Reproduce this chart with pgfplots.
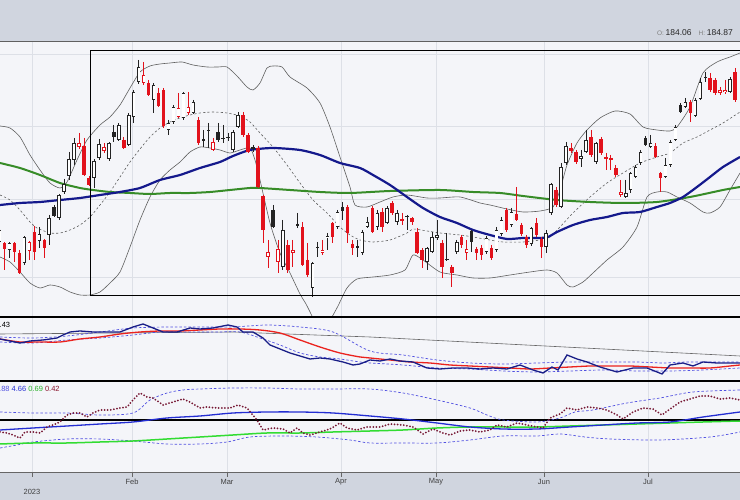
\documentclass[border=0pt]{standalone}
\usepackage{fontspec}
\setmainfont{Liberation Sans}
\usepackage{pgfplots}
\usepackage{pgfplotstable}
\pgfplotsset{compat=1.18}

\definecolor{bandbg}{RGB}{208,213,223}
\definecolor{chartbg}{RGB}{244,245,249}
\definecolor{gridc}{RGB}{221,224,231}
\definecolor{candred}{RGB}{226,18,28}
\definecolor{candblk}{RGB}{35,35,35}
\definecolor{bbgray}{RGB}{95,95,95}
\definecolor{maA}{RGB}{20,25,140}
\definecolor{maB}{RGB}{55,140,40}
\definecolor{navyi}{RGB}{25,30,135}
\definecolor{redi}{RGB}{235,35,30}
\definecolor{dashblue}{RGB}{80,80,225}
\definecolor{bluei}{RGB}{35,45,210}
\definecolor{greeni}{RGB}{50,220,50}
\definecolor{maroonD}{RGB}{118,24,52}

% candles: k index, o/c body ends, h/l wick ends (screen depth units, larger = lower)
% t: 0 hollow black, 1 hollow red, 2 filled red, 3 filled black
\pgfplotstableread{
k o h l c t
-1 242 228 245 230 0
0 243 242 270 249 2
1 250 242 258 243 0
2 243 242 262 252 2
3 253 250 274 273 2
4 263 236 265 237 0
5 251 241 260 242 1
6 232 226 260 252 2
7 241 227 248 234 0
8 240 239 258 248 2
9 235 215 245 218 0
10 207 205 217 216 3
11 218 194 220 195 0
12 192 179 194 184 0
13 176 152 180 159 0
14 160 138 165 143 0
15 147 133 149 143 1
16 146 138 176 175 2
17 178 176 186 185 2
18 178 159 188 161 0
19 158 139 160 144 0
20 151 143 153 147 1
21 159 142 161 143 0
22 132 125 142 137 3
23 140 123 141 125 0
24 140 137 149 148 2
25 145 113 146 115 0
26 117 90 123 92 0
27 82 60 84 67 0
28 83 62 85 75 1
29 83 80 96 95 2
30 100 83 113 85 0
31 93 88 107 106 2
32 90 88 128 126 2
33 130 120 135 123 0
34 122 105 124 107 0
35 117 93 118 108 1
36 118 92 120 93 0
37 113 92 115 107 1
38 113 100 114 102 0
39 120 117 145 143 2
40 139 130 147 141 3
41 131 123 148 130 0
42 150 138 151 142 1
43 132 123 142 140 3
44 139 125 143 138 0
45 137 133 141 138 3
46 150 130 152 132 0
47 127 112 128 115 0
48 115 112 137 135 2
49 135 133 153 152 2
50 147 145 152 149 3
51 148 146 188 187 2
52 196 195 243 230 2
53 257 240 268 252 1
54 210 205 228 227 3
55 262 240 273 249 1
56 267 220 270 230 0
57 245 240 273 270 2
58 253 240 267 250 1
59 224 213 228 226 3
60 227 222 266 265 2
61 260 243 277 275 2
62 288 262 297 263 0
63 248 242 257 247 0
64 253 240 255 250 1
65 238 233 250 236 0
66 223 222 243 237 2
67 227 210 229 212 0
68 207 202 220 211 3
69 207 205 243 233 2
70 244 240 255 248 2
71 246 240 257 248 3
72 253 230 255 232 0
73 227 217 228 222 0
74 208 206 233 232 2
75 227 210 230 213 0
76 212 208 232 227 2
77 223 206 224 208 0
78 203 201 215 213 2
79 222 210 225 213 0
80 219 213 225 221 2
81 216 215 230 217 3
82 218 217 225 222 2
83 232 228 254 253 2
84 250 248 268 260 2
85 262 247 270 248 0
86 252 232 253 237 0
87 238 220 240 235 0
88 243 240 278 267 2
89 259 233 261 260 3
90 267 265 287 273 2
91 252 240 254 242 0
92 237 235 248 245 2
93 253 240 260 249 1
94 231 230 252 242 3
95 249 247 260 253 2
96 248 245 260 255 2
97 252 236 254 238 0
98 248 245 260 258 2
99 250 227 252 230 0
100 234 217 236 220 0
101 210 208 232 230 2
102 225 208 227 212 0
103 214 187 221 220 2
104 225 223 236 234 2
105 237 235 248 245 2
106 244 227 246 228 0
107 223 218 237 235 2
108 239 237 258 247 2
109 247 230 253 233 0
110 213 183 215 184 0
111 190 187 207 205 2
112 207 163 208 167 0
113 163 142 165 146 0
114 148 143 153 151 2
115 152 150 164 162 2
116 159 150 167 156 0
117 152 130 153 140 0
118 137 130 157 155 2
119 162 142 164 143 0
120 139 137 155 153 2
121 157 153 170 159 2
122 158 155 170 160 2
123 168 165 177 175 2
124 195 180 197 192 1
125 197 180 198 193 0
126 190 172 193 173 0
127 177 165 178 167 0
128 163 150 165 152 0
129 138 136 146 145 3
130 147 135 148 143 0
131 146 143 158 157 2
132 173 172 192 178 2
133 177 158 178 165 0
134 165 140 167 142 0
135 140 125 141 127 0
136 105 103 113 112 3
137 107 98 108 102 0
138 102 100 122 113 2
139 116 98 117 100 0
140 99 78 100 82 0
141 78 72 82 77 0
142 78 73 92 90 2
143 80 78 95 93 2
144 93 87 95 90 1
145 92 80 94 90 1
146 92 77 93 79 0
147 72 68 102 100 2
}\candles

\pgfplotsset{
  neg/.style={y filter/.expression={-y}},
  candle/.style={draw=none, no markers, forget plot},
}

\begin{document}
\begin{tikzpicture}[x=1pt,y=1pt]
\fill[bandbg] (0,0) rectangle (740,500);

\begin{axis}[scale only axis, width=740pt, height=431pt, at={(0,28)}, anchor=south west,
    xmin=0, xmax=740, ymin=-472, ymax=-41,
    axis line style={draw=none}, tick style={draw=none},
    xtick={32,132,227,341,436,544,648}, xticklabels={},
    ytick={-277,-199,-126,-54}, yticklabels={},
    xmajorgrids, ymajorgrids,
    grid style={gridc, line width=0.6pt},
    axis background/.style={fill=chartbg}]

% ============ main price panel ============
% Bollinger bands
\addplot[neg, bbgray, line width=0.6pt, smooth, tension=0.4] coordinates {
(0,126) (10,128) (20,137) (30,155) (40,170) (50,183) (60,188) (67,182) (77,160) (87,140) (100,125) (110,117) (120,105) (130,88) (140,72) (150,66) (160,64) (170,63) (182,62) (193,65) (207,67) (218,67) (227,67) (237,76) (247,87) (253,90) (260,83) (267,68) (273,66) (282,67) (290,77) (307,88) (320,103) (330,127) (340,157) (350,187) (355,205) (367,207) (380,202) (393,197) (407,195) (427,198) (440,198) (460,197) (480,203) (490,205) (507,209) (523,212) (540,211) (553,207) (560,190) (567,165) (577,143) (587,130) (600,118) (615,111) (630,114) (643,127) (657,130) (670,131) (677,127) (690,107) (703,73) (717,62) (730,57) (740,53)};
\addplot[neg, bbgray, line width=0.6pt, smooth, tension=0.4] coordinates {
(0,257) (10,262) (20,272) (30,283) (40,288) (50,285) (60,287) (70,292) (80,295) (90,295) (100,292) (110,283) (120,272) (130,247) (140,220) (150,197) (160,180) (170,170) (180,162) (190,152) (200,147) (210,148) (220,150) (230,153) (240,150) (250,148) (255,160) (260,180) (270,223) (280,253) (290,273) (300,294) (306,304) (312.5,317)};
\addplot[neg, bbgray, line width=0.6pt, smooth, tension=0.4] coordinates {
(332,317) (338,306) (347,288) (357,279) (373,277) (390,275) (405,270) (413,255) (423,260) (440,272) (457,275) (473,278) (490,278) (510,275) (530,272) (547,270) (557,273) (567,285) (573,287) (583,282) (593,273) (607,260) (623,247) (637,227) (647,197) (657,192) (667,192) (677,197) (690,203) (703,212) (710,213) (720,207) (730,190) (740,173)};
\addplot[neg, bbgray, line width=0.6pt, dash pattern=on 2.2pt off 2.2pt, smooth, tension=0.4] coordinates {
(0,195) (10,200) (20,210) (30,222) (37,228) (50,233) (60,233) (70,230) (80,225) (90,217) (100,205) (110,192) (120,177) (130,162) (140,149) (150,137) (160,128) (170,122) (180,118) (190,115) (200,113) (213,112) (227,113) (240,116) (250,122) (260,133) (273,147) (287,165) (300,183) (313,200) (327,213) (340,227) (350,235) (360,240) (373,242) (390,240) (407,233) (413,229) (427,231) (440,233) (460,235) (473,237) (490,240) (503,242) (523,242) (540,240) (550,237) (560,227) (573,213) (590,197) (607,183) (623,173) (640,163) (657,157) (670,153) (683,143) (697,137) (710,130) (723,123) (740,112)};

% moving averages
\addplot[neg, maB, line width=2pt, smooth, tension=0.4] coordinates {
(0,163) (20,168) (40,175) (60,183) (80,188) (93,190) (110,192) (130,193) (150,194) (170,193) (190,193) (210,192) (230,190) (250,188) (260,188) (290,190) (320,192) (350,193) (390,191) (440,190) (473,192) (500,193) (523,196) (557,200) (590,202) (623,203) (657,202) (690,197) (723,190) (740,187)};
\addplot[neg, maA, line width=2.2pt, smooth, tension=0.4] coordinates {
(0,205) (20,203) (40,202) (60,200) (80,198) (100,195) (120,192) (140,188) (160,180) (180,175) (200,168) (220,162) (233,156) (250,150) (273,148) (300,150) (320,155) (340,163) (360,168) (373,175) (390,185) (407,197) (423,208) (440,217) (457,223) (473,230) (490,235) (507,239) (523,238) (540,238) (548,237) (557,232) (573,225) (590,220) (607,217) (623,213) (640,212) (657,207) (670,203) (683,197) (697,187) (710,177) (723,167) (740,157)};

% candle wicks
\addplot[candle,
  restrict expr to domain={mod(\thisrow{t},3)}{0:0},
  error bars/.cd, y dir=minus, y explicit, error mark=none,
  error bar style={draw=candblk, line width=0.7pt}]
  table[x expr=4.5+4.97*\thisrow{k}, y expr=-\thisrow{h}, y error expr=\thisrow{l}-\thisrow{h}] {\candles};
\addplot[candle,
  restrict expr to domain={\thisrow{t}}{1:2},
  error bars/.cd, y dir=minus, y explicit, error mark=none,
  error bar style={draw=candred, line width=0.7pt}]
  table[x expr=4.5+4.97*\thisrow{k}, y expr=-\thisrow{h}, y error expr=\thisrow{l}-\thisrow{h}] {\candles};
% candle bodies
\addplot[candle,
  restrict expr to domain={mod(\thisrow{t},3)}{0:0},
  error bars/.cd, y dir=minus, y explicit, error mark=none,
  error bar style={draw=candblk, line width=3.5pt}]
  table[x expr=4.5+4.97*\thisrow{k}, y expr={-min(\thisrow{o},\thisrow{c})}, y error expr={max(abs(\thisrow{o}-\thisrow{c}),1)}] {\candles};
\addplot[candle,
  restrict expr to domain={\thisrow{t}}{1:2},
  error bars/.cd, y dir=minus, y explicit, error mark=none,
  error bar style={draw=candred, line width=3.5pt}]
  table[x expr=4.5+4.97*\thisrow{k}, y expr={-min(\thisrow{o},\thisrow{c})}, y error expr={max(abs(\thisrow{o}-\thisrow{c}),1)}] {\candles};
\addplot[candle,
  restrict expr to domain={\thisrow{t}}{0:1},
  error bars/.cd, y dir=minus, y explicit, error mark=none,
  error bar style={draw=white, line width=2.2pt}]
  table[x expr=4.5+4.97*\thisrow{k}, y expr={-min(\thisrow{o},\thisrow{c})-0.65}, y error expr={max(abs(\thisrow{o}-\thisrow{c})-1.3,0)}] {\candles};

\draw[black, line width=1.2pt] (axis cs:90.5,-50.7) rectangle (axis cs:760,-295.5);

% ============ indicator panel 2 ============
\addplot[neg, gray!80!black, line width=0.6pt] coordinates {(0,334) (233,332) (370,337) (740,356)};
\addplot[neg, dashblue, line width=0.7pt, dash pattern=on 2.5pt off 2pt, smooth] coordinates {
(0,337) (33,338) (67,336) (100,332) (133,328) (167,327) (200,327) (233,327) (267,325) (300,327) (333,332) (370,351) (403,355) (437,360) (470,363) (503,364) (537,363) (570,362) (603,362) (637,362) (663,363) (687,362) (720,362) (740,362)};
\addplot[neg, dashblue, line width=0.7pt, dash pattern=on 2.5pt off 2pt, smooth] coordinates {
(0,342) (33,343) (67,340) (100,338) (133,335) (160,332) (187,332) (217,332) (240,332) (260,338) (280,345) (300,353) (320,357) (340,359) (360,362) (370,363) (403,365) (437,368) (470,369) (503,371) (537,372) (570,371) (603,370) (637,371) (670,371) (703,370) (740,368)};
\addplot[neg, redi, line width=1.3pt, smooth] coordinates {
(0,339) (20,342) (40,342) (60,342) (80,339) (100,337) (120,334) (140,332) (160,331) (180,331) (200,330) (220,329) (240,329) (260,330) (280,333) (300,340) (320,347) (340,353) (360,357) (370,358) (390,360) (410,362) (430,363) (450,365) (470,366) (490,367) (510,368) (530,369) (550,368) (570,367) (590,366) (610,366) (630,366) (650,367) (670,368) (690,368) (710,368) (730,366) (740,365)};
\addplot[neg, navyi, line width=1.3pt] coordinates {
(0,339) (10,341) (20,343) (30,341) (43,340) (57,338) (63,335) (70,332) (80,331) (93,332) (110,332) (120,332) (133,327) (143,324) (153,328) (163,332) (177,332) (190,328) (200,329) (213,328) (228,325) (237,327) (243,332) (253,332) (263,338) (270,345) (280,349) (290,353) (300,356) (310,359) (320,358) (330,359) (343,362) (353,365) (360,364) (370,360) (380,361) (390,359) (400,361) (413,362) (427,368) (440,369) (453,368) (467,368) (480,369) (493,368) (507,369) (520,365) (533,370) (543,373) (552,367) (558,370) (567,355) (577,359) (587,362) (600,367) (617,372) (633,368) (647,368) (662,374) (670,365) (683,363) (693,366) (703,362) (717,363) (730,363) (740,363)};

% ============ indicator panel 3 ============
\addplot[neg, black, line width=1.2pt] coordinates {(0,420) (740,420)};
\addplot[neg, dashblue, line width=0.7pt, dash pattern=on 2.5pt off 2pt, smooth] coordinates {
(0,412) (33,413) (67,413) (100,415) (133,413) (150,400) (167,393) (183,390) (200,389) (233,388) (267,388) (300,389) (333,389) (370,389) (403,393) (437,400) (470,408) (487,415) (503,420) (537,422) (560,418) (575,412) (593,410) (627,403) (660,398) (693,392) (740,390)};
\addplot[neg, dashblue, line width=0.7pt, dash pattern=on 2.5pt off 2pt, smooth] coordinates {
(0,448) (17,445) (33,442) (67,439) (100,439) (133,441) (167,444) (200,444) (227,442) (250,437) (283,436) (317,437) (350,440) (370,443) (403,443) (437,443) (470,440) (503,436) (537,436) (560,434) (585,437) (610,439) (660,440) (710,437) (740,432)};
\addplot[neg, greeni, line width=1.5pt, smooth] coordinates {
(0,444) (33,443) (67,443) (100,442) (133,441) (167,439) (200,437) (233,435) (267,433) (300,433) (333,432) (370,431) (403,430) (437,428) (470,427) (503,427) (537,427) (570,426) (603,425) (637,424) (670,423) (703,422) (740,421)};
\addplot[neg, bluei, line width=1.3pt, smooth] coordinates {
(0,430) (33,428) (67,426) (100,424) (133,422) (167,418) (200,416) (233,413) (267,412) (300,412) (333,413) (370,416) (403,419) (437,423) (470,427) (503,429) (537,429) (570,427) (603,425) (637,423) (670,422) (703,417) (740,412)};
\addplot[neg, maroonD, line width=2pt, dash pattern=on 0pt off 3.1pt, line cap=round] coordinates {
(0,432) (7,433) (13,435) (20,438) (25,432) (33,432) (40,433) (47,427) (53,425) (60,422) (67,415) (73,413) (80,413) (87,417) (93,413) (100,410) (110,410) (120,408) (127,407) (133,400) (140,393) (147,397) (153,398) (163,405) (173,402) (183,399) (190,402) (200,408) (207,407) (217,408) (230,408) (238,405) (247,408) (257,420) (263,430) (273,428) (283,429) (290,433) (297,428) (303,433) (310,435) (320,432) (330,429) (340,423) (347,428) (357,430) (367,427) (380,427) (390,424) (403,425) (413,427) (423,434) (433,429) (443,433) (450,435) (460,431) (470,430) (480,432) (490,430) (497,425) (507,427) (517,423) (527,425) (537,427) (543,428) (550,418) (560,414) (567,408) (577,410) (587,407) (597,408) (607,410) (617,415) (623,419) (633,412) (643,408) (653,409) (662,415) (670,409) (680,402) (690,399) (700,396) (710,396) (720,399) (730,398) (740,400)};
\end{axis}

% frame lines
\draw[gray!75!black, line width=0.7pt] (0,459) -- (740,459);
\draw[black, line width=1.3pt] (0,183) -- (740,183);
\draw[black, line width=1.3pt] (0,119) -- (740,119);
\draw[gray!80!black, line width=0.8pt] (0,28) -- (740,28);
\foreach \xx in {32,132,227,341,436,544,648} \draw[gray!80!black, line width=0.6pt] (\xx,28) -- (\xx,23);

% texts
\node[anchor=west, fill=chartbg, inner sep=1pt, font=\fontsize{7.5}{9}\selectfont] at (-1.5,175) {.43};
\node[anchor=west, inner sep=1pt, font=\fontsize{7.5}{9}\selectfont] at (-2,111) {\textcolor{dashblue}{.88} \textcolor{bluei}{4.66} \textcolor{greeni!80!black}{0.69} \textcolor{maroonD!85!red}{0.42}};
\node[anchor=east, inner sep=0pt] at (733,467) {\textcolor{gray}{\fontsize{6.5}{7}\selectfont O:}\,{\fontsize{8.5}{9}\selectfont\textcolor{black!85}{184.06}}\hspace{7pt}\textcolor{gray}{\fontsize{6.5}{7}\selectfont H:}\,{\fontsize{8.5}{9}\selectfont\textcolor{black!85}{184.87}}};
\begin{scope}[every node/.style={font=\fontsize{7.5}{9}\selectfont, text=black!75, inner sep=0pt}]
\node at (132,18) {Feb};
\node at (227,18) {Mar};
\node at (341,18) {Apr};
\node at (436,18) {May};
\node at (544,18) {Jun};
\node at (648,18) {Jul};
\node at (32,8) {2023};
\end{scope}
\pgfresetboundingbox
\path[use as bounding box] (0,0) rectangle (740,500);
\end{tikzpicture}
\end{document}
